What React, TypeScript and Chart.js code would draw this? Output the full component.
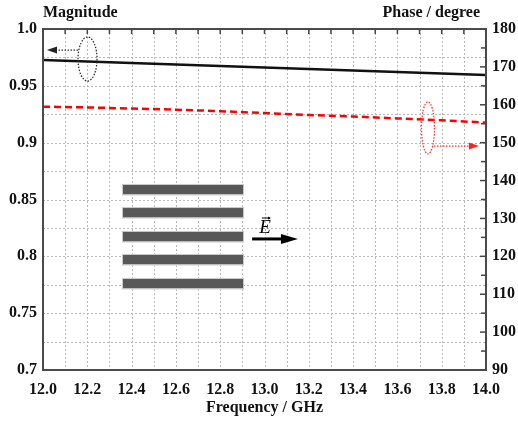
import React, { useEffect, useRef } from "react";
import { Chart, registerables } from "chart.js";

Chart.register(...registerables);

// ---- data ----
const frequencies = [12.0, 12.2, 12.4, 12.6, 12.8, 13.0, 13.2, 13.4, 13.6, 13.8, 14.0];
const magnitude = [0.9727, 0.9713, 0.9701, 0.9688, 0.9675, 0.9662, 0.9648, 0.9635, 0.9622, 0.9608, 0.9595];
const phase = [159.5, 159.3, 159.0, 158.7, 158.3, 157.8, 157.3, 156.9, 156.4, 155.9, 155.3];

const xTitle = "Frequency / GHz";
const leftTitle = "Magnitude";
const rightTitle = "Phase / degree";
const fieldLabel = "E";

// grating strip tops (magnitude units) and frequency span
const gratingTops = [0.8628, 0.8425, 0.8214, 0.8012, 0.7801];
const gratingSpan = [12.361, 12.903];

const FONT = "'Liberation Serif', 'Times New Roman', serif";

function arrowHead(ctx: CanvasRenderingContext2D, x: number, y: number, dir: number, len: number, half: number, color: string) {
  ctx.save();
  ctx.setLineDash([]);
  ctx.fillStyle = color;
  ctx.beginPath();
  ctx.moveTo(x, y);
  ctx.lineTo(x - dir * len, y - half);
  ctx.lineTo(x - dir * len, y + half);
  ctx.closePath();
  ctx.fill();
  ctx.restore();
}

const gridPlugin = {
  id: "dottedGrid",
  beforeDatasetsDraw(chart: any) {
    const ctx: CanvasRenderingContext2D = chart.ctx;
    const { left, right, top, bottom } = chart.chartArea;
    const xs = chart.scales.x;
    const yl = chart.scales.y;
    ctx.save();
    ctx.strokeStyle = "#b8b8b8";
    ctx.lineWidth = 1;
    ctx.setLineDash([2, 2]);
    xs.ticks.forEach((t: any) => {
      const px = Math.round(xs.getPixelForValue(t.value)) + 0.5;
      ctx.beginPath();
      ctx.moveTo(px, top);
      ctx.lineTo(px, bottom);
      ctx.stroke();
    });
    yl.ticks.forEach((t: any) => {
      const py = Math.round(yl.getPixelForValue(t.value)) + 0.5;
      ctx.beginPath();
      ctx.moveTo(left, py);
      ctx.lineTo(right, py);
      ctx.stroke();
    });
    ctx.restore();
  },
};

const decorPlugin = {
  id: "decor",
  afterDatasetsDraw(chart: any) {
    const ctx: CanvasRenderingContext2D = chart.ctx;
    const { left, right, top, bottom } = chart.chartArea;
    const xs = chart.scales.x;
    const yl = chart.scales.y;
    const yr = chart.scales.y1;
    ctx.save();

    // inward ticks on top axis every 0.1 GHz
    ctx.strokeStyle = "#444";
    ctx.lineWidth = 1.5;
    ctx.setLineDash([]);
    for (let i = 1; i < 20; i++) {
      const px = xs.getPixelForValue(12 + i * 0.1);
      ctx.beginPath();
      ctx.moveTo(px, top);
      ctx.lineTo(px, top + 5);
      ctx.stroke();
    }
    // inward ticks on right axis every 5 degrees
    for (let v = 95; v < 180; v += 5) {
      const py = yr.getPixelForValue(v);
      ctx.beginPath();
      ctx.moveTo(right, py);
      ctx.lineTo(right - (v % 10 === 0 ? 6 : 5), py);
      ctx.stroke();
    }

    // frame
    ctx.strokeStyle = "#4a4a4a";
    ctx.lineWidth = 2;
    ctx.strokeRect(left, top, right - left, bottom - top);

    // grating strips
    const gx0 = xs.getPixelForValue(gratingSpan[0]);
    const gx1 = xs.getPixelForValue(gratingSpan[1]);
    ctx.fillStyle = "#585858";
    ctx.strokeStyle = "#c8c8c8";
    ctx.lineWidth = 1;
    gratingTops.forEach((t) => {
      const py = yl.getPixelForValue(t);
      ctx.fillStyle = "#ffffff";
      ctx.fillRect(gx0 - 1, py - 1, gx1 - gx0 + 2, 11.5);
      ctx.fillStyle = "#585858";
      ctx.fillRect(gx0, py, gx1 - gx0, 9.5);
      ctx.strokeRect(gx0 - 0.5, py - 0.5, gx1 - gx0 + 1, 10.5);
    });

    // E field arrow
    const ey = yl.getPixelForValue(0.8153);
    const ex0 = xs.getPixelForValue(12.944);
    const ex1 = xs.getPixelForValue(13.151);
    ctx.strokeStyle = "#000";
    ctx.lineWidth = 3;
    ctx.beginPath();
    ctx.moveTo(ex0, ey);
    ctx.lineTo(ex1 - 14, ey);
    ctx.stroke();
    arrowHead(ctx, ex1, ey, 1, 17, 5, "#000");
    // E label with vector arrow
    const lx = xs.getPixelForValue(13.002);
    const ly = yl.getPixelForValue(0.8258);
    ctx.fillStyle = "#000";
    ctx.font = `italic 19px ${FONT}`;
    ctx.textAlign = "center";
    ctx.textBaseline = "middle";
    ctx.fillText(fieldLabel, lx, ly + 1);
    ctx.lineWidth = 1;
    ctx.beginPath();
    ctx.moveTo(lx - 3, ly - 9);
    ctx.lineTo(lx + 5, ly - 9);
    ctx.stroke();
    arrowHead(ctx, lx + 6, ly - 9, 1, 3, 1.5, "#000");

    // magnitude ellipse + arrow (dotted, dark)
    ctx.strokeStyle = "#333";
    ctx.lineWidth = 1.3;
    ctx.setLineDash([1.5, 1.5]);
    const mcx = xs.getPixelForValue(12.201);
    const mcy = yl.getPixelForValue(0.9736);
    ctx.beginPath();
    ctx.ellipse(mcx, mcy, 9.5, 22, 0, 0, Math.PI * 2);
    ctx.stroke();
    const may = yl.getPixelForValue(0.9815);
    const max0 = xs.getPixelForValue(12.158);
    const max1 = xs.getPixelForValue(12.018);
    ctx.beginPath();
    ctx.moveTo(max0, may);
    ctx.lineTo(max1 + 8, may);
    ctx.stroke();
    arrowHead(ctx, max1, may, -1, 10, 3.5, "#222");

    // phase ellipse + arrow (dotted, red)
    ctx.strokeStyle = "#ff3030";
    ctx.setLineDash([1.5, 1.5]);
    const pcx = xs.getPixelForValue(13.738);
    const pcy = yr.getPixelForValue(153.9);
    ctx.beginPath();
    ctx.ellipse(pcx, pcy, 6.5, 26, 0, 0, Math.PI * 2);
    ctx.stroke();
    const pay = yr.getPixelForValue(149.1);
    const pax0 = xs.getPixelForValue(13.765);
    const pax1 = xs.getPixelForValue(13.968);
    ctx.beginPath();
    ctx.moveTo(pax0, pay);
    ctx.lineTo(pax1 - 8, pay);
    ctx.stroke();
    arrowHead(ctx, pax1, pay, 1, 10, 3.5, "#ff2020");

    // titles
    ctx.setLineDash([]);
    ctx.fillStyle = "#111";
    ctx.font = `bold 16px ${FONT}`;
    ctx.textBaseline = "middle";
    ctx.textAlign = "left";
    ctx.fillText(leftTitle, 43, 13);
    ctx.textAlign = "right";
    ctx.fillText(rightTitle, 480, 13);
    ctx.textAlign = "center";
    ctx.fillText(xTitle, (left + right) / 2, 408);

    ctx.restore();
  },
};

export default function App() {
  const ref = useRef<HTMLCanvasElement>(null);
  useEffect(() => {
    document.body.style.margin = "0";
    const canvas = ref.current!;
    const tickFont = { family: FONT, size: 16, weight: "bold" as const };
    const chart = new Chart(canvas, {
      type: "line",
      data: {
        datasets: [
          {
            label: "Magnitude",
            data: frequencies.map((f, i) => ({ x: f, y: magnitude[i] })),
            borderColor: "#111",
            borderWidth: 2.5,
            pointRadius: 0,
            yAxisID: "y",
          },
          {
            label: "Phase",
            data: frequencies.map((f, i) => ({ x: f, y: phase[i] })),
            borderColor: "#ff0000",
            borderWidth: 2.5,
            borderDash: [7, 4],
            pointRadius: 0,
            cubicInterpolationMode: "monotone",
            yAxisID: "y1",
          },
        ],
      },
      options: {
        responsive: false,
        animation: false,
        devicePixelRatio: 1,
        layout: { padding: { top: 29, left: 0, right: 0, bottom: 0 } },
        plugins: { legend: { display: false }, tooltip: { enabled: false } },
        scales: {
          x: {
            type: "linear",
            min: 12,
            max: 14,
            border: { display: false },
            grid: { display: false, drawTicks: false },
            ticks: {
              stepSize: 0.1,
              autoSkip: false,
              maxRotation: 0,
              padding: 10,
              color: "#111",
              font: tickFont,
              callback: (v: any) => (Math.round(Number(v) * 10) % 2 === 0 ? Number(v).toFixed(1) : ""),
            },
            afterFit: (s: any) => {
              s.height = 51;
            },
          },
          y: {
            type: "linear",
            position: "left",
            min: 0.7,
            max: 1.0,
            border: { display: false },
            grid: { display: false, drawTicks: false },
            ticks: {
              stepSize: 0.025,
              autoSkip: false,
              padding: 6,
              color: "#111",
              font: tickFont,
              callback: (v: any) => {
                const r = Math.round(Number(v) * 1000);
                if (r % 50 !== 0) return "";
                if (r === 1000) return "1.0";
                return String(r / 1000);
              },
            },
            afterFit: (s: any) => {
              s.width = 43;
            },
          },
          y1: {
            type: "linear",
            position: "right",
            min: 90,
            max: 180,
            border: { display: false },
            grid: { display: false, drawTicks: false },
            ticks: {
              stepSize: 5,
              autoSkip: false,
              padding: 6,
              color: "#111",
              font: tickFont,
              callback: (v: any) => (Number(v) % 10 === 0 ? String(v) : ""),
            },
            afterFit: (s: any) => {
              s.width = 32;
            },
          },
        },
      },
      plugins: [gridPlugin, decorPlugin],
    } as any);
    return () => chart.destroy();
  }, []);
  return (
    <div style={{ width: 518, height: 421 }}>
      <canvas ref={ref} width={518} height={421} />
    </div>
  );
}
